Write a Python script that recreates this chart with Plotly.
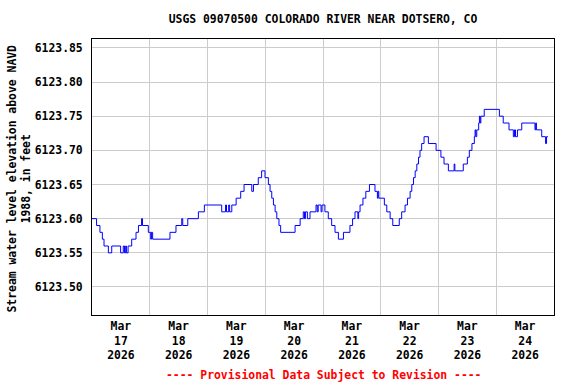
import pandas as pd
import plotly.graph_objects as go

# Step breakpoints: hours after 2026-03-17 00:00, and gage height (6123.xx ft)
hours = [0.0, 1.9, 3.3, 4.3, 5.0, 6.8, 8.2, 11.9, 13.0, 13.5, 14.0, 14.3, 15.0, 16.5,
         18.3, 19.3, 20.6, 21.0, 23.4, 24.4, 24.7, 25.2, 32.4, 34.9, 37.3, 37.7, 39.8,
         44.2, 46.7, 53.9, 55.5, 55.9, 56.8, 57.2, 58.1, 59.9, 61.8, 63.2, 66.4, 67.1,
         69.1, 70.5, 71.9, 73.3, 74.0, 74.7, 75.4, 76.1, 76.8, 77.7, 78.4, 84.4, 86.5,
         87.8, 88.3, 88.7, 89.5, 90.6, 93.1, 93.6, 94.0, 95.2, 95.6, 96.8, 98.2, 99.6,
         101.0, 102.4, 104.5, 107.2, 108.3, 109.3, 110.5, 110.8, 111.4, 112.6, 113.8,
         115.3, 117.6, 118.6, 118.9, 119.2, 121.5, 122.5, 123.9, 125.0, 127.7, 128.7,
         130.1, 131.1, 132.2, 132.9, 133.6, 134.3, 135.0, 135.7, 136.3, 137.0, 138.0,
         139.8, 143.0, 145.0, 146.3, 148.1, 150.5, 150.8, 154.3, 156.0, 156.8, 157.9,
         158.9, 159.2, 159.5, 159.9, 160.7, 161.0, 161.3, 161.6, 163.0, 169.3, 170.9,
         173.3, 175.1, 175.6, 176.0, 176.8, 178.6, 184.1, 184.4, 184.7, 186.9, 188.5,
         188.9, 189.5]
levels = [0.60, 0.59, 0.58, 0.57, 0.56, 0.55, 0.56, 0.55, 0.56, 0.55, 0.56, 0.55, 0.56, 0.57,
          0.58, 0.59, 0.60, 0.59, 0.58, 0.57, 0.58, 0.57, 0.58, 0.59, 0.60, 0.59, 0.60,
          0.61, 0.62, 0.61, 0.62, 0.61, 0.62, 0.61, 0.62, 0.63, 0.64, 0.65, 0.64, 0.65,
          0.66, 0.67, 0.66, 0.65, 0.64, 0.63, 0.62, 0.61, 0.60, 0.59, 0.58, 0.59, 0.60,
          0.61, 0.60, 0.61, 0.60, 0.61, 0.62, 0.61, 0.62, 0.61, 0.62, 0.61, 0.60, 0.59,
          0.58, 0.57, 0.58, 0.59, 0.60, 0.61, 0.60, 0.61, 0.62, 0.63, 0.64,
          0.65, 0.64, 0.63, 0.64, 0.63, 0.62, 0.61, 0.60, 0.59, 0.60, 0.61,
          0.62, 0.63, 0.64, 0.65, 0.66, 0.67, 0.68, 0.69, 0.70, 0.71, 0.72,
          0.71, 0.70, 0.69, 0.68, 0.67, 0.68, 0.67, 0.68, 0.69, 0.70, 0.71,
          0.72, 0.73, 0.72, 0.73, 0.74, 0.75, 0.74, 0.75, 0.76, 0.75, 0.74,
          0.73, 0.72, 0.73, 0.72, 0.73, 0.74, 0.73, 0.74, 0.73, 0.72, 0.71,
          0.72, 0.72]
base_elev = 6123.0

day_labels = ["Mar<br>17<br>2026", "Mar<br>18<br>2026", "Mar<br>19<br>2026", "Mar<br>20<br>2026",
              "Mar<br>21<br>2026", "Mar<br>22<br>2026", "Mar<br>23<br>2026", "Mar<br>24<br>2026"]
day_dates = ["2026-03-17", "2026-03-18", "2026-03-19", "2026-03-20",
             "2026-03-21", "2026-03-22", "2026-03-23", "2026-03-24"]
y_ticks = [6123.50, 6123.55, 6123.60, 6123.65, 6123.70, 6123.75, 6123.80, 6123.85]

start = pd.Timestamp("2026-03-17 00:00")
times = [start + pd.Timedelta(hours=h) for h in hours]
values = [base_elev + v for v in levels]

label_pos = [pd.Timestamp(d) + pd.Timedelta(hours=12) for d in day_dates]
grid_pos = [pd.Timestamp(d) for d in day_dates[1:]]

FONT = "DejaVu Sans Mono"
FS = 11.4

fig = go.Figure()
fig.add_trace(go.Scatter(x=times, y=values, mode="lines", line=dict(color="#0000ff", width=1, shape="hv"),
                         showlegend=False, hoverinfo="skip"))

W, H = 576, 384
fig.update_layout(
    width=W, height=H,
    margin=dict(l=92, r=W - 554, t=39, b=H - 315, pad=0),
    paper_bgcolor="white", plot_bgcolor="white",
    font=dict(family=FONT, size=FS, color="black", weight="bold"),
    title=dict(text="USGS 09070500 COLORADO RIVER NEAR DOTSERO, CO",
               x=((92 + 554) / 2) / W, xanchor="center", xref="container",
               y=1 - 19 / H, yanchor="middle", yref="container",
               font=dict(family=FONT, size=FS, color="black", weight="bold")),
    xaxis=dict(
        range=[pd.Timestamp("2026-03-17 00:00"), pd.Timestamp("2026-03-25 00:00")],
        tickmode="array", tickvals=label_pos, ticktext=day_labels,
        showgrid=False, ticks="", showline=True, linecolor="black", linewidth=1, mirror=True,
        zeroline=False,
        minor=dict(tickmode="array", tickvals=grid_pos, showgrid=True, gridcolor="#cccccc",
                   gridwidth=1, ticks=""),
        tickfont=dict(family=FONT, size=FS, color="black", weight="bold"),
    ),
    yaxis=dict(
        range=[6123.459, 6123.863],
        tickmode="array", tickvals=y_ticks, ticktext=[f"{v:.2f}" for v in y_ticks],
        showgrid=True, gridcolor="#cccccc", gridwidth=1, ticks="",
        showline=True, linecolor="black", linewidth=1, mirror=True, zeroline=False,
        ticklabelstandoff=6,
        tickfont=dict(family=FONT, size=FS, color="black", weight="bold"),
    ),
    annotations=[
        dict(text="Stream water level elevation above NAVD<br>1988, in feet",
             xref="paper", yref="paper", x=(18.5 - 92) / 462, y=(315 - 179) / 276,
             xanchor="center", yanchor="middle", textangle=-90, showarrow=False,
             font=dict(family=FONT, size=FS, color="black", weight="bold")),
        dict(text="---- Provisional Data Subject to Revision ----",
             xref="paper", yref="paper", x=0.5, y=-(375 - 315) / 276,
             xanchor="center", yanchor="middle", showarrow=False,
             font=dict(family=FONT, size=FS, color="red", weight="bold")),
    ],
)

fig.write_html("out.html", config={"displayModeBar": False},
               post_script="document.body.style.margin='0';document.body.style.padding='0';")
